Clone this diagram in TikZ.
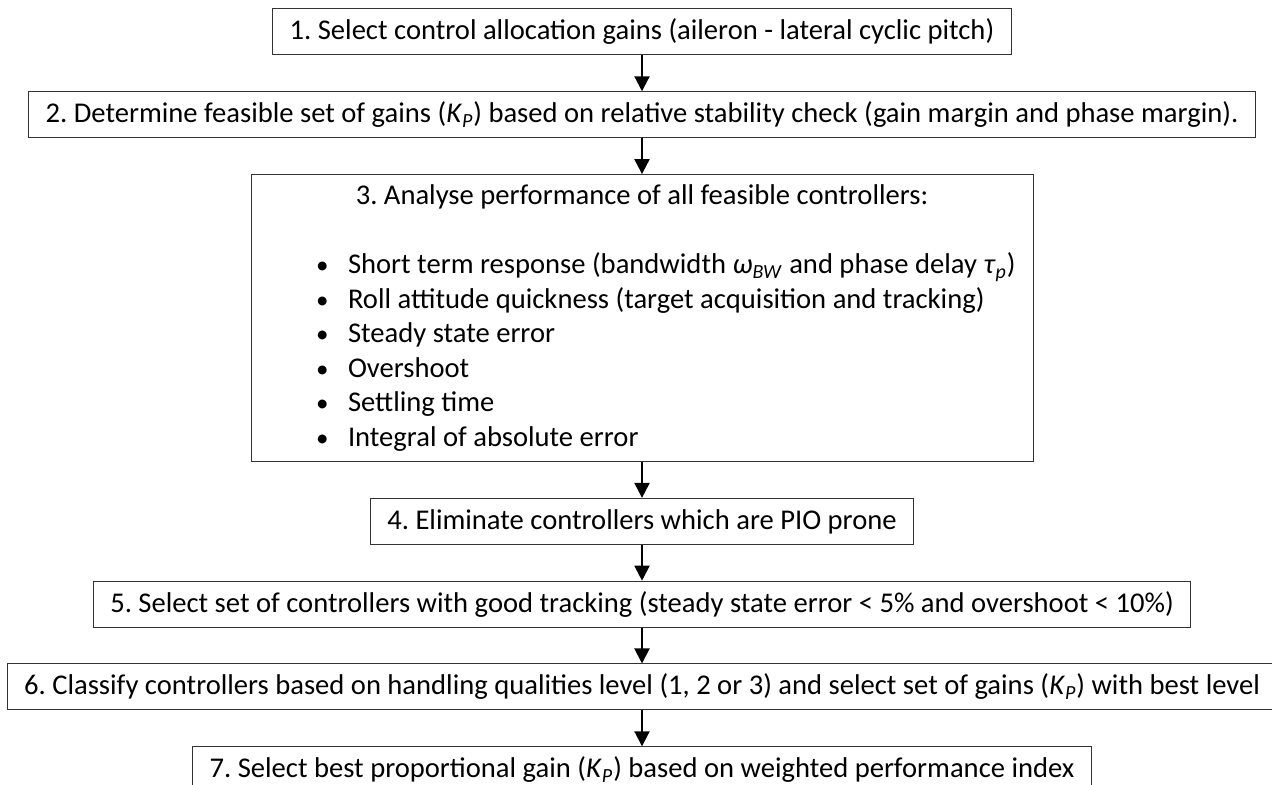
\documentclass[tikz,border=0pt]{standalone}
\usepackage{fontspec}
\setmainfont{Carlito}
\frenchspacing
\usetikzlibrary{positioning,arrows.meta}

\tikzstyle{block} = [rectangle, draw=black!80, line width=0.5pt, inner xsep=8.5pt, minimum height=23pt, font=\fontsize{14.3}{17.25}\selectfont]
\tikzstyle{flow} = [-{Triangle[width=7.5pt,length=7.5pt]}, line width=1pt]

\newcommand{\Kp}{\textit{K}\textsubscript{\textit{P}}}
\newcommand{\perfitem}[1]{\makebox[374pt][l]{\hspace*{24pt}\makebox[16pt][l]{\fontsize{12.5}{12.5}\selectfont\textbullet}#1}}

\begin{document}
\begin{tikzpicture}[x=0.5pt,y=0.5pt]
        \tikzset{node distance = 17.9pt}
        \useasboundingbox (0,0) rectangle (1272,785);
        \clip (0,0) rectangle (1272,785);
        % Selection steps, one box per step
        \node (s1) at (642,753) [block] {1. Select control allocation gains (aileron - lateral cyclic pitch)};
        \node (s2) [block, below=of s1] {2. Determine feasible set of gains (\Kp) based on relative stability check (gain margin and phase margin).};
        \node (s3) [block, below=of s2, align=left, minimum height=143.5pt] {%
            \makebox[374pt]{3. Analyse performance of all feasible controllers:}\\[17.25pt]
            \perfitem{Short term response (bandwidth \textit{ω}\textsubscript{\textit{BW}} and phase delay \textit{τ}\textsubscript{\textit{p}})}\\
            \perfitem{Roll attitude quickness (target acquisition and tracking)}\\
            \perfitem{Steady state error}\\
            \perfitem{Overshoot}\\
            \perfitem{Settling time}\\
            \perfitem{Integral of absolute error}%
};
        \node (s4) [block, below=of s3] {4. Eliminate controllers which are PIO prone};
        \node (s5) [block, below=of s4] {5. Select set of controllers with good tracking (steady state error < 5\% and overshoot < 10\%)};
        \node (s6) [block, below=of s5] {6. Classify controllers based on handling qualities level (1, 2 or 3) and select set of gains (\Kp) with best level};
        \node (s7) [block, below=of s6] {7. Select best proportional gain (\Kp) based on weighted performance index};
        % Arrows between the steps
        \foreach \a/\b in {s1/s2,s2/s3,s3/s4,s4/s5,s5/s6,s6/s7}
            \draw[flow] (\a) -- (\b);
    \end{tikzpicture}
\end{document}
